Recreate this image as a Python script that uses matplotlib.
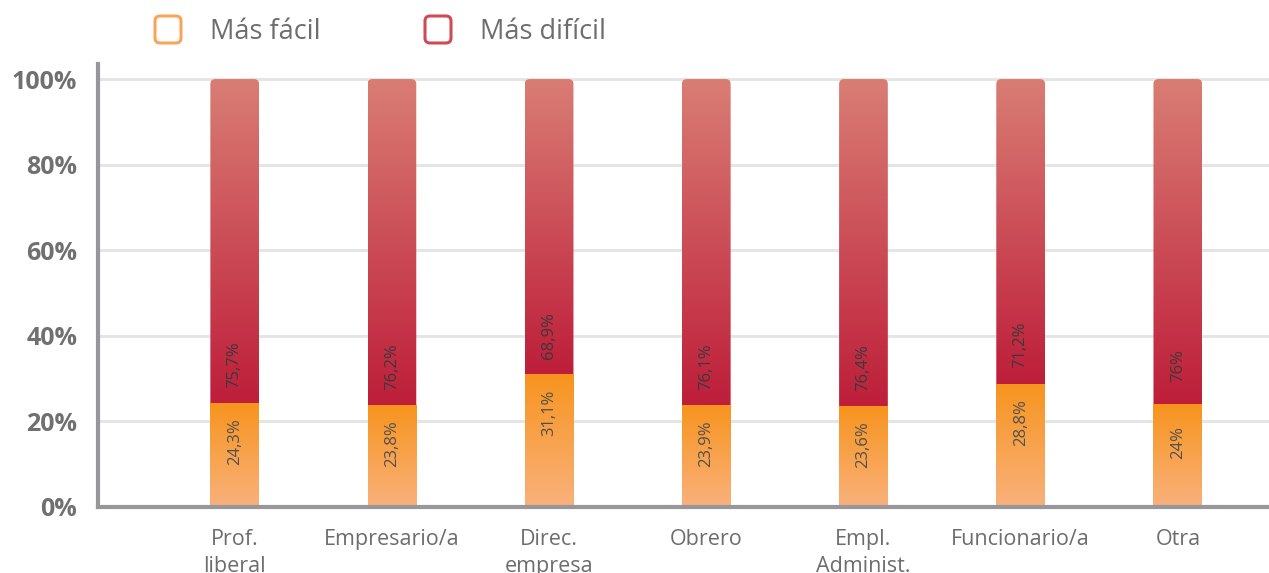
import numpy as np
import matplotlib.pyplot as plt
from matplotlib.patches import FancyBboxPatch, Rectangle
from matplotlib.colors import LinearSegmentedColormap

plt.rcParams['font.family'] = ['Open Sans', 'DejaVu Sans']

categories = ['Prof.\nliberal', 'Empresario/a', 'Direc.\nempresa', 'Obrero',
              'Empl.\nAdminist.', 'Funcionario/a', 'Otra']
mas_facil = [24.3, 23.8, 31.1, 23.9, 23.6, 28.8, 24.0]
mas_dificil = [75.7, 76.2, 68.9, 76.1, 76.4, 71.2, 76.0]
facil_labels = ['24,3%', '23,8%', '31,1%', '23,9%', '23,6%', '28,8%', '24%']
dificil_labels = ['75,7%', '76,2%', '68,9%', '76,1%', '76,4%', '71,2%', '76%']
yticks = [0, 20, 40, 60, 80, 100]

orange_cmap = LinearSegmentedColormap.from_list('or', ['#f9b17c', '#f7941e'])
red_cmap = LinearSegmentedColormap.from_list('rd', ['#be1e3a', '#d97d74'])
grad = np.linspace(0, 1, 256).reshape(-1, 1)

fig = plt.figure(figsize=(12.69, 5.73), dpi=100)
ax = fig.add_axes([0.0772, 0.1152, 0.9228, 0.773])
ax.set_xlim(-0.87, 6.58)
ax.set_ylim(0, 103.5)

w = 0.31
for i, (f, d) in enumerate(zip(mas_facil, mas_dificil)):
    x0 = i - w / 2
    # orange segment
    clip_o = Rectangle((x0, 0), w, f, transform=ax.transData, facecolor='none', edgecolor='none')
    ax.add_patch(clip_o)
    im = ax.imshow(grad, cmap=orange_cmap, origin='lower', aspect='auto',
                   extent=(x0, x0 + w, 0, f), zorder=2)
    im.set_clip_path(clip_o)
    # red segment with rounded top
    clip_r = FancyBboxPatch((x0, 0), w, f + d, boxstyle='round,pad=0,rounding_size=0.032',
                            mutation_aspect=37, transform=ax.transData,
                            facecolor='none', edgecolor='none')
    ax.add_patch(clip_r)
    im = ax.imshow(grad, cmap=red_cmap, origin='lower', aspect='auto',
                   extent=(x0, x0 + w, f, f + d), zorder=2)
    im.set_clip_path(clip_r)
    ax.text(i, f - 9, facil_labels[i], rotation=90, ha='center', va='center',
            fontsize=12, color='#505050', fontweight='normal', zorder=3)
    ax.text(i, f + 9, dificil_labels[i], rotation=90, ha='center', va='center',
            fontsize=12, color='#3a3a3a', fontweight='normal', zorder=3)

ax.set_xticks(range(len(categories)))
ax.set_xticklabels(categories, fontsize=15.5, color='#6d6d6d', linespacing=1.35, va='top')
ax.set_yticks(yticks)
ax.set_yticklabels([f'{v}%' for v in yticks], fontsize=18, fontweight='bold', color='#707070')
ax.tick_params(axis='x', length=0, pad=16)
ax.tick_params(axis='y', length=0, pad=15)
ax.grid(axis='y', color='#e5e5e5', linewidth=2.2, zorder=0)
ax.set_axisbelow(True)
for s in ['top', 'right']:
    ax.spines[s].set_visible(False)
for s in ['left', 'bottom']:
    ax.spines[s].set_color('#97979b')
    ax.spines[s].set_linewidth(3)
ax.spines['left'].set_zorder(4)
ax.spines['bottom'].set_zorder(4)

# legend
W, H = 1269.0, 573.0
legend_items = [('Más fácil', '#f8a55a', 155), ('Más difícil', '#cf4a55', 425)]
for name, col, px in legend_items:
    box = FancyBboxPatch((px / W, (H - 43) / H), 26 / W, 27 / H,
                         boxstyle='round,pad=0,rounding_size=0.004', mutation_aspect=W / H,
                         transform=fig.transFigure, facecolor='white', edgecolor=col,
                         linewidth=2.2)
    fig.patches.append(box)
    fig.text((px + 55) / W, (H - 32) / H, name, fontsize=19.5, color='#6d6d6d',
             va='center', ha='left')

fig.savefig('out.png', dpi=100)
